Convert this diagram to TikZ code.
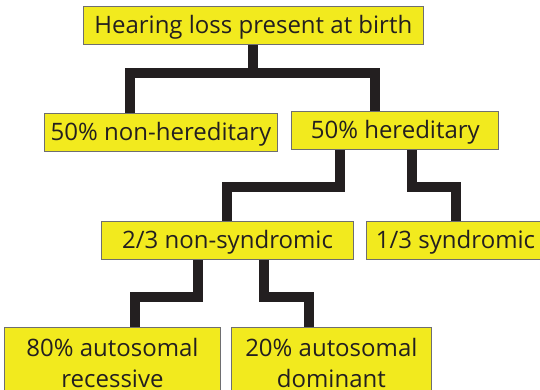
\documentclass[tikz,border=0pt]{standalone}
\usepackage{fontspec}
\setmainfont{Open Sans}
\usepackage{tikz}
\definecolor{boxyellow}{RGB}{242,234,30}
\definecolor{boxrim}{RGB}{110,110,112}
\definecolor{inkdark}{RGB}{35,31,32}

\begin{document}
\begin{tikzpicture}[x=1pt, y=1pt,
    box/.style={draw=boxrim, line width=1pt, fill=boxyellow, text=inkdark,
      font=\fontsize{24}{31}\selectfont, inner xsep=0pt,
      minimum height=38.3pt, text height=20pt, text depth=5pt},
    twobox/.style={draw=boxrim, line width=1pt, fill=boxyellow, text=inkdark,
      font=\fontsize{24}{30.5}\selectfont, inner xsep=0pt, inner ysep=8.5pt,
      align=center, anchor=north},
    link/.style={draw=inkdark, line width=10pt, line join=miter}]
      \useasboundingbox (0,0) rectangle (540,389);
      \clip (0,0) rectangle (540,389);
      \node(hl) [box, minimum width=340pt] at (253.3,363.2) {Hearing loss present at birth};
      \node(nh) [box, minimum width=233.4pt] at (161,256.3) {50\% non-hereditary};
      \node(h) [box, minimum width=207.3pt] at (395.3,258.2) {50\% hereditary};
      \node(ns) [box, minimum width=251.6pt] at (227.5,148.2) {2/3 non-syndromic};
      \node(s) [box, minimum width=179pt] at (455.5,148.2) {1/3 syndromic};
      \node(ar) [twobox, minimum width=216.4pt, minimum height=72pt] at (112.5,62.3) {80\% autosomal\\recessive};
      \node(ad) [twobox, minimum width=199.3pt, minimum height=72pt] at (331.35,62.3) {20\% autosomal\\dominant};

      \draw[link] (hl.south) -- ++(0,-27.75) -| ([xshift=-31pt]nh.north);
      \draw[link] (hl.south) -- ++(0,-27.75) -| ([xshift=-20.3pt]h.north);
      \draw[link] ([xshift=-55.3pt]h.south) -- ++(0,-36.55) -| ([xshift=-0.8pt]ns.north);
      \draw[link] ([xshift=16.7pt]h.south) -- ++(0,-36.55) -| (s.north);
      \draw[link] ([xshift=-29.2pt]ns.south) -- ++(0,-37) -| ([xshift=22.5pt]ar.north);
      \draw[link] ([xshift=36.5pt]ns.south) -- ++(0,-37) -| ([xshift=-22.35pt]ad.north);
\end{tikzpicture}
\end{document}
